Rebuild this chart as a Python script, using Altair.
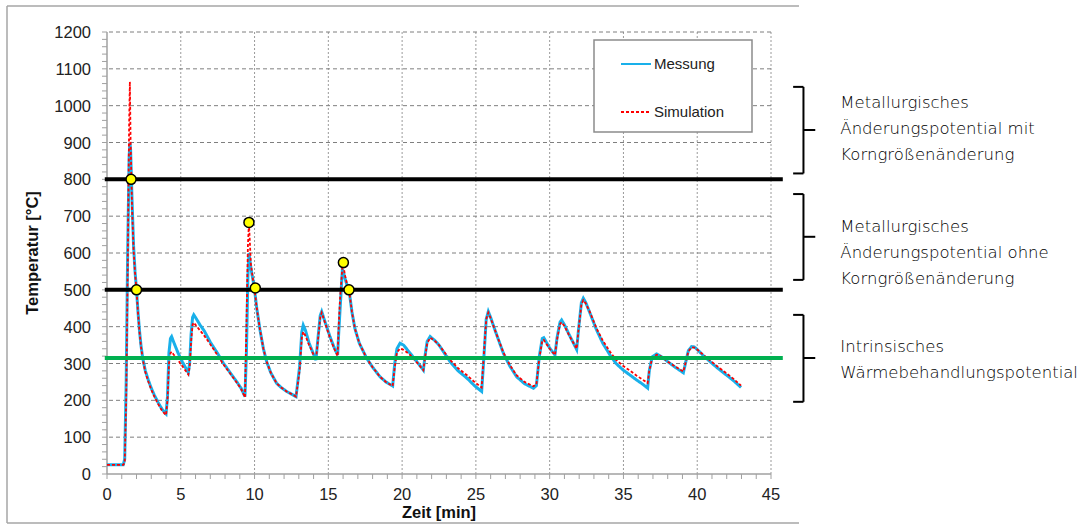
import altair as alt
import pandas as pd

# ---------------- data ----------------
t = [0, 1.1, 1.2, 1.3, 1.4, 1.5, 1.55, 1.6, 1.7, 1.8, 1.9,
     2.0, 2.1, 2.2, 2.3, 2.42, 2.6, 2.8, 3.0, 3.2, 3.45, 3.7, 3.9, 4.0,
     4.1, 4.2, 4.3, 4.38, 4.5, 4.8, 5.1, 5.51, 5.6, 5.7, 5.8, 5.88, 6.0, 6.3, 6.6, 7.0, 7.5, 7.9, 8.4, 8.8, 9.1, 9.35,
     9.45, 9.55, 9.62, 9.75, 9.9, 10.0, 10.15, 10.37, 10.6, 10.82, 11.1, 11.5, 11.8, 12.18, 12.5, 12.81,
     13.05, 13.2, 13.3, 13.45, 13.7, 13.95, 14.16, 14.3, 14.45, 14.55, 14.8, 15.11, 15.4, 15.63,
     15.7, 15.8, 15.95, 16.02, 16.1, 16.25, 16.4, 16.6, 16.8, 17.1, 17.6, 18.0, 18.5, 18.9, 19.36,
     19.5, 19.65, 19.86, 20.1, 20.5, 21.0, 21.44, 21.55, 21.7, 21.9, 22.2, 22.5, 23.25, 23.8, 24.4, 24.9, 25.39,
     25.5, 25.7, 25.84, 26.0, 26.3, 26.86, 27.3, 27.76, 28.3, 28.9, 29.1, 29.3, 29.5, 29.6, 30.0, 30.36,
     30.5, 30.7, 30.81, 31.0, 31.3, 31.83, 31.95, 32.15, 32.28, 32.45, 32.7, 33.18, 33.6, 34.09, 34.5,
     34.99, 35.5, 35.9, 36.3, 36.64,
     36.75, 36.95, 37.25, 37.6, 38.0, 38.5, 39.06, 39.2, 39.4, 39.62, 39.8, 40.0, 40.4, 40.87, 41.4, 42.0, 42.5, 42.97]

messung = [25, 25, 40, 250, 600, 860, 900, 880, 740, 620, 550,
           500, 440, 390, 350, 315, 280, 255, 233, 215, 195, 178, 167, 163,
           210, 330, 368, 373, 360, 330, 305, 275, 300, 380, 425, 432, 425, 405, 388, 358, 327, 300, 272, 250, 232, 210,
           330, 540, 600, 560, 525, 500, 450, 391, 340, 305, 275, 246, 235, 224, 217, 210,
           290, 385, 404, 390, 355, 330, 309, 370, 430, 441, 410, 373, 343, 323,
           380, 450, 555, 550, 535, 515, 500, 440, 395, 355, 314, 290, 264, 250, 239,
           300, 340, 355, 350, 330, 305, 282, 320, 360, 373, 363, 350, 305, 280, 260, 240, 224,
           290, 420, 441, 425, 390, 328, 293, 264, 245, 233, 240, 320, 368, 370, 342, 323,
           370, 412, 418, 405, 380, 338, 390, 465, 477, 465, 440, 391, 355, 323, 300,
           282, 267, 255, 244, 233,
           280, 318, 326, 318, 305, 290, 275, 300, 335, 346, 345, 338, 322, 305, 287, 268, 252, 235]

simulation = [25, 25, 30, 200, 550, 950, 1065, 900, 720, 610, 545,
              500, 438, 387, 347, 312, 276, 251, 229, 211, 191, 174, 164, 160,
              200, 300, 328, 332, 325, 310, 293, 270, 290, 360, 405, 411, 405, 390, 375, 352, 322, 297, 270, 248, 230, 208,
              400, 620, 683, 570, 525, 500, 450, 391, 340, 305, 275, 246, 235, 224, 217, 210,
              280, 370, 386, 375, 350, 328, 309, 365, 425, 438, 408, 370, 340, 320,
              400, 480, 560, 574, 545, 518, 500, 440, 395, 355, 314, 290, 264, 250, 239,
              290, 330, 341, 337, 325, 303, 282, 315, 355, 370, 362, 350, 310, 287, 268, 250, 235,
              300, 420, 438, 423, 390, 330, 296, 268, 250, 238, 243, 315, 362, 364, 340, 323,
              365, 407, 412, 402, 378, 340, 390, 460, 472, 463, 442, 395, 362, 332, 310,
              293, 279, 267, 256, 247,
              280, 316, 324, 318, 305, 292, 278, 300, 333, 344, 343, 338, 324, 308, 291, 273, 257, 240]

series_names = ["Messung", "Simulation"]

dot_t = [1.63, 2.0, 9.62, 10.05, 16.02, 16.4]
dot_T = [800, 500, 683, 505, 574, 500]

black_levels = [800, 500]
green_levels = [315]
line_start = -0.15
line_end = 45.8

bracket_top = [1051, 760, 432]
bracket_mid = [934, 644, 315]
bracket_bot = [816, 527, 196]
bracket_x_hook = 46.5
bracket_x_line = 47.2
bracket_x_tip = 48.0

note_x = 49.7
note_y = [1006, 671, 346]   # first line of each note
note_text = [
    "Metallurgisches\nÄnderungspotential mit\nKorngrößenänderung",
    "Metallurgisches\nÄnderungspotential ohne\nKorngrößenänderung",
    "Intrinsisches\nWärmebehandlungspotential",
]

x_title = "Zeit [min]"
y_title = "Temperatur [°C]"
x_major = list(range(0, 46, 5))
y_major = list(range(0, 1201, 100))
x_minor = list(range(0, 46, 1))
y_minor = list(range(0, 1201, 20))
x_grid = list(range(5, 46, 5))
y_grid = list(range(100, 1201, 100))

# ---------------- tables ----------------
assert len(t) == len(messung) == len(simulation)
curve_df = pd.DataFrame(
    [{"t": a, "T": b, "series": "Messung"} for a, b in zip(t, messung)]
    + [{"t": a, "T": b, "series": "Simulation"} for a, b in zip(t, simulation)]
)
dots_df = pd.DataFrame({"t": dot_t, "T": dot_T})
black_df = pd.DataFrame({"x": [line_start] * len(black_levels), "x2": [line_end] * len(black_levels), "y": black_levels})
green_df = pd.DataFrame({"x": [line_start] * len(green_levels), "x2": [line_end] * len(green_levels), "y": green_levels})
br_vert = pd.DataFrame({"x": [bracket_x_line] * 3, "y": bracket_top, "y2": bracket_bot})
br_hooks = pd.DataFrame({"x": [bracket_x_hook] * 6, "x2": [bracket_x_line] * 6, "y": bracket_top + bracket_bot})
br_mid = pd.DataFrame({"x": [bracket_x_line] * 3, "x2": [bracket_x_tip] * 3, "y": bracket_mid})
notes_df = pd.DataFrame({"x": [note_x] * 3, "y": note_y, "text": note_text})
xgrid_df = pd.DataFrame({"x": x_grid})
ygrid_df = pd.DataFrame({"y": y_grid})
xminor_df = pd.DataFrame({"x": x_minor})
yminor_df = pd.DataFrame({"y": y_minor})
xlab_df = pd.DataFrame({"x": x_major, "label": [str(v) for v in x_major]})
ylab_df = pd.DataFrame({"y": y_major, "label": [str(v) for v in y_major]})

# ---------------- scales ----------------
xs = alt.Scale(domain=[0, 45], nice=False, zero=False)
ys = alt.Scale(domain=[0, 1200], nice=False)
X = lambda f: alt.X(f, scale=xs, axis=None)
Y = lambda f: alt.Y(f, scale=ys, axis=None)

legend = alt.Legend(
    title=None, orient="none", legendX=513, legendY=16, padding=0,
    symbolType="stroke", symbolSize=900, symbolStrokeWidth=2, rowPadding=24,
    labelFont="Liberation Sans", labelFontSize=15, labelColor="#222", labelOffset=2,
)
color_scale = alt.Scale(domain=series_names, range=["#19b0ea", "#ff0000"])
dash_scale = alt.Scale(domain=series_names, range=[[1, 0], [3, 2]])

AXIS_GREY = "#a0a0a0"
one = pd.DataFrame({"k": [0]})

# ---------------- frame / grid / axes ----------------
frame_top = alt.Chart(one).mark_rule(color="#a6a6a6", strokeWidth=1.5).encode(
    x=alt.value(-100), x2=alt.value(692), y=alt.value(-26))
frame_bot = alt.Chart(one).mark_rule(color="#a6a6a6", strokeWidth=1.5).encode(
    x=alt.value(-100), x2=alt.value(692), y=alt.value(491))
frame_left = alt.Chart(one).mark_rule(color="#a6a6a6", strokeWidth=1.5).encode(
    x=alt.value(-100), y=alt.value(-26), y2=alt.value(491))

xgrid = alt.Chart(xgrid_df).mark_rule(color="#9a9a9a", strokeWidth=1, strokeDash=[2, 2]).encode(x=X("x:Q"))
ygrid = alt.Chart(ygrid_df).mark_rule(color="#7f7f7f", strokeWidth=1, strokeDash=[4, 3]).encode(y=Y("y:Q"))

x_domain = alt.Chart(one).mark_rule(color=AXIS_GREY, strokeWidth=1.5).encode(
    x=alt.value(0), x2=alt.value(664), y=alt.value(442))
y_domain = alt.Chart(one).mark_rule(color=AXIS_GREY, strokeWidth=1.5).encode(
    x=alt.value(0), y=alt.value(0), y2=alt.value(442))
xminor = alt.Chart(xminor_df).mark_rule(color=AXIS_GREY, strokeWidth=1).encode(
    x=X("x:Q"), y=alt.value(442), y2=alt.value(447))
yminor = alt.Chart(yminor_df).mark_rule(color=AXIS_GREY, strokeWidth=1).encode(
    y=Y("y:Q"), x=alt.value(-5), x2=alt.value(0))

xlabels = alt.Chart(xlab_df).mark_text(
    font="Liberation Sans", fontSize=16.5, color="#222", align="center", baseline="alphabetic").encode(
    x=X("x:Q"), y=alt.value(468), text="label:N")
ylabels = alt.Chart(ylab_df).mark_text(
    font="Liberation Sans", fontSize=16.5, color="#222", align="right", baseline="alphabetic", dy=6).encode(
    y=Y("y:Q"), x=alt.value(-16), text="label:N")
xtitle = alt.Chart(pd.DataFrame({"text": [x_title]})).mark_text(
    font="Liberation Sans", fontSize=16.5, fontWeight="bold", color="#111",
    align="center", baseline="alphabetic").encode(
    x=alt.value(332), y=alt.value(486), text="text:N")
ytitle = alt.Chart(pd.DataFrame({"text": [y_title]})).mark_text(
    font="Liberation Sans", fontSize=16.5, fontWeight="bold", color="#111",
    align="center", baseline="alphabetic", angle=270).encode(
    x=alt.value(-69), y=alt.value(221), text="text:N")

legend_box = alt.Chart(one).mark_rect(
    fill="white", stroke="#8c8c8c", strokeWidth=1.5).encode(
    x=alt.value(487), x2=alt.value(645), y=alt.value(8), y2=alt.value(100))

# ---------------- data marks ----------------
curves_m = alt.Chart(curve_df).transform_filter(alt.datum.series == "Messung").mark_line(
    strokeWidth=3, interpolate="linear").encode(
    x=X("t:Q"), y=Y("T:Q"),
    color=alt.Color("series:N", scale=color_scale, legend=legend),
    strokeDash=alt.StrokeDash("series:N", scale=dash_scale, legend=legend),
)
curves_s = alt.Chart(curve_df).transform_filter(alt.datum.series == "Simulation").mark_line(
    strokeWidth=1.8, interpolate="linear").encode(
    x=X("t:Q"), y=Y("T:Q"),
    color=alt.Color("series:N", scale=color_scale, legend=legend),
    strokeDash=alt.StrokeDash("series:N", scale=dash_scale, legend=legend),
)

black_lines = alt.Chart(black_df).mark_rule(color="black", strokeWidth=4).encode(
    x=X("x:Q"), x2="x2:Q", y=Y("y:Q"))
green_lines = alt.Chart(green_df).mark_rule(color="#00b050", strokeWidth=4).encode(
    x=X("x:Q"), x2="x2:Q", y=Y("y:Q"))

dots = alt.Chart(dots_df).mark_circle(
    fill="#ffff00", stroke="black", strokeWidth=1.5, size=100, opacity=1).encode(
    x=X("t:Q"), y=Y("T:Q"))

bv = alt.Chart(br_vert).mark_rule(color="black", strokeWidth=2).encode(
    x=X("x:Q"), y=Y("y:Q"), y2="y2:Q")
bh = alt.Chart(br_hooks).mark_rule(color="black", strokeWidth=2).encode(
    x=X("x:Q"), x2="x2:Q", y=Y("y:Q"))
bm = alt.Chart(br_mid).mark_rule(color="black", strokeWidth=2).encode(
    x=X("x:Q"), x2="x2:Q", y=Y("y:Q"))

notes = alt.Chart(notes_df).mark_text(
    align="left", baseline="middle", lineBreak="\n", lineHeight=26,
    font="DejaVu Sans", fontSize=16.5, fontWeight=300, color="#000").encode(
    x=X("x:Q"), y=Y("y:Q"), text="text:N")

chart = alt.layer(
    frame_top, frame_bot, frame_left, xgrid, ygrid, legend_box,
    x_domain, y_domain, xminor, yminor, xlabels, ylabels, xtitle, ytitle,
    curves_m, curves_s, black_lines, green_lines, dots, bv, bh, bm, notes,
).properties(
    width=664, height=442,
    autosize=alt.AutoSizeParams(type="none"),
    padding={"left": 107, "top": 32, "right": 315, "bottom": 53},
    background="white",
).configure_view(stroke=None)

chart.save("out.html", embed_options={"renderer": "svg", "actions": False})
